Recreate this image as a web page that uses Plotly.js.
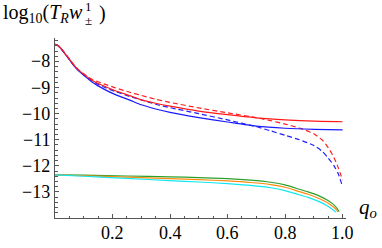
<!DOCTYPE html>
<html>
<head>
<meta charset="utf-8">
<script src="https://cdn.plot.ly/plotly-3.0.1.min.js"></script>
<style>html,body{margin:0;padding:0;background:#fff}#chart{width:382px;height:248px}</style>
</head>
<body>
<div id="chart"></div>
<script>
// ---- data ----
var xUpper = [0, 0.01, 0.02, 0.03, 0.05, 0.065, 0.083, 0.1, 0.13, 0.17, 0.21, 0.26, 0.3, 0.35, 0.4, 0.5, 0.6, 0.7, 0.8, 0.9, 1.0];
var redSolid  = [-7.34,-7.39,-7.49,-7.63,-7.91,-8.13,-8.34,-8.49,-8.73,-8.94,-9.12,-9.31,-9.47,-9.6,-9.71,-9.9,-10.04,-10.16,-10.24,-10.29,-10.31];
var blueSolid = [-7.34,-7.39,-7.5,-7.64,-7.93,-8.16,-8.37,-8.53,-8.8,-9.06,-9.27,-9.48,-9.66,-9.82,-9.95,-10.15,-10.32,-10.48,-10.56,-10.6,-10.62];

var xDashed = [0, 0.01, 0.02, 0.03, 0.05, 0.065, 0.083, 0.1, 0.13, 0.17, 0.21, 0.26, 0.3, 0.35, 0.4, 0.5, 0.6, 0.7, 0.75, 0.8, 0.85, 0.9, 0.93, 0.95, 0.97, 0.985, 1.0];
var redDashed  = [-7.34,-7.39,-7.49,-7.62,-7.9,-8.12,-8.33,-8.47,-8.69,-8.86,-9.01,-9.18,-9.3,-9.45,-9.57,-9.78,-9.97,-10.15,-10.27,-10.4,-10.55,-10.77,-11.02,-11.3,-11.68,-12.07,-12.55];
var blueDashed = [-7.34,-7.39,-7.5,-7.63,-7.92,-8.14,-8.35,-8.51,-8.76,-8.98,-9.15,-9.34,-9.47,-9.64,-9.77,-10.0,-10.24,-10.5,-10.66,-10.83,-11.0,-11.22,-11.45,-11.7,-11.99,-12.3,-12.8];

var xGreen  = [0, 0.1, 0.25, 0.4, 0.5, 0.6, 0.68, 0.75, 0.8, 0.85, 0.88, 0.92, 0.945, 0.965, 0.98, 0.988];
var green   = [-12.35,-12.36,-12.39,-12.42,-12.45,-12.49,-12.55,-12.63,-12.73,-12.9,-13.0,-13.16,-13.3,-13.45,-13.62,-13.76];
var xOrange = [0, 0.1, 0.25, 0.4, 0.5, 0.6, 0.68, 0.75, 0.8, 0.85, 0.88, 0.92, 0.945, 0.965, 0.98, 0.984];
var orange  = [-12.35,-12.38,-12.43,-12.49,-12.53,-12.58,-12.64,-12.72,-12.82,-12.99,-13.09,-13.26,-13.4,-13.55,-13.7,-13.77];
var xCyan   = [0, 0.1, 0.25, 0.4, 0.5, 0.6, 0.68, 0.75, 0.8, 0.85, 0.88, 0.92, 0.945, 0.965, 0.977];
var cyan    = [-12.35,-12.4,-12.48,-12.57,-12.62,-12.68,-12.75,-12.84,-12.95,-13.11,-13.21,-13.38,-13.52,-13.67,-13.77];

var xTickVals = [0.2, 0.4, 0.6, 0.8, 1.0];
var xTickText = ["0.2", "0.4", "0.6", "0.8", "1.0"];
var yTickVals = [-8, -9, -10, -11, -12, -13];
var yTickText = ["\u22128", "\u22129", "\u221210", "\u221211", "\u221212", "\u221213"];

// ---- drawing ----
function line(x, y, color, dash) {
  return {x: x, y: y, type: 'scatter', mode: 'lines',
    line: {color: color, width: 1.2, dash: dash || 'solid', shape: 'spline', smoothing: 0.6},
    hoverinfo: 'skip', showlegend: false};
}
var traces = [
  line(xGreen, green, '#2ca02c'),
  line(xOrange, orange, '#ff8a10'),
  line(xCyan, cyan, '#10e8f0'),
  line(xDashed, blueDashed, '#2020ff', '5px,3px'),
  line(xDashed, redDashed, '#ff2020', '5px,3px'),
  line(xUpper, blueSolid, '#1a1aff'),
  line(xUpper, redSolid, '#ff1a1a')
];

var axisGrey = '#555555';
var serif = 'Liberation Serif';
var L = 55, R = 36, T = 38, B = 30, W = 382, H = 248;
var pw = W - L - R, ph = H - T - B;
function px(x) { return (x - L) / pw; }
function py(y) { return (H - B - y) / ph; }
var tickFont = {family: serif, size: 18, color: '#000'};

var annotations = [
  {xref: 'paper', yref: 'paper', x: px(1), y: py(13), xanchor: 'left', yanchor: 'middle', showarrow: false,
   text: 'log<sub>10</sub>(<i>T</i><sub><i>R</i></sub><i>w</i>', font: {family: serif, size: 20, color: '#000'}},
  {xref: 'paper', yref: 'paper', x: px(84), y: py(7), xanchor: 'left', yanchor: 'middle', showarrow: false, borderpad: 0,
   text: '1', font: {family: serif, size: 13, color: '#000'}},
  {xref: 'paper', yref: 'paper', x: px(83), y: py(21), xanchor: 'left', yanchor: 'middle', showarrow: false,
   text: '±', font: {family: serif, size: 13, color: '#000'}},
  {xref: 'paper', yref: 'paper', x: px(97), y: py(13), xanchor: 'left', yanchor: 'middle', showarrow: false,
   text: ')', font: {family: serif, size: 20, color: '#000'}},
  {xref: 'paper', yref: 'paper', x: px(357), y: py(208), xanchor: 'left', yanchor: 'middle', showarrow: false,
   text: '<i>q</i><sub><i>o</i></sub>', font: {family: serif, size: 21, color: '#000'}}
];
xTickVals.forEach(function (v, i) {
  annotations.push({xref: 'x', yref: 'paper', x: v, y: py(233), xanchor: 'center', yanchor: 'middle',
    showarrow: false, text: xTickText[i], font: tickFont});
});
yTickVals.forEach(function (v, i) {
  annotations.push({xref: 'paper', yref: 'y', x: px(52), y: v, xanchor: 'right', yanchor: 'middle',
    showarrow: false, text: yTickText[i], font: tickFont});
});

var layout = {
  width: W, height: H,
  margin: {l: L, r: R, t: T, b: B, pad: 0},
  paper_bgcolor: '#fff', plot_bgcolor: '#fff',
  showlegend: false,
  font: {family: serif, color: '#000', size: 18},
  xaxis: {
    range: [0, 1.012], showgrid: false, zeroline: false,
    showline: true, linecolor: axisGrey, linewidth: 1,
    tickmode: 'array', tickvals: xTickVals, showticklabels: false,
    ticks: 'inside', ticklen: 4, tickcolor: axisGrey, tickwidth: 1,
    minor: {tickmode: 'linear', tick0: 0, dtick: 0.05, ticks: 'inside', ticklen: 2.5, tickcolor: axisGrey, tickwidth: 1, showgrid: false}
  },
  yaxis: {
    range: [-14, -7.1], showgrid: false, zeroline: false,
    showline: true, linecolor: axisGrey, linewidth: 1,
    tickmode: 'array', tickvals: yTickVals, showticklabels: false,
    ticks: 'inside', ticklen: 4, tickcolor: axisGrey, tickwidth: 1,
    minor: {tickmode: 'linear', tick0: -14, dtick: 0.2, ticks: 'inside', ticklen: 2.5, tickcolor: axisGrey, tickwidth: 1, showgrid: false}
  },
  annotations: annotations
};

Plotly.newPlot('chart', traces, layout, {staticPlot: true, displayModeBar: false});
</script>
</body>
</html>
